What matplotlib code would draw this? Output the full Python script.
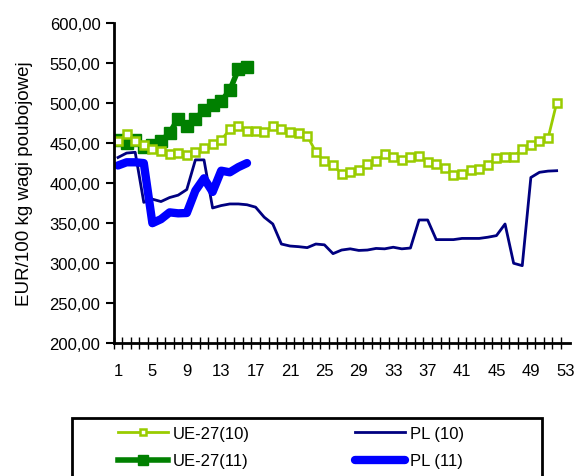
import numpy as np
import matplotlib
matplotlib.use("Agg")
import matplotlib.pyplot as plt
from matplotlib.patches import Rectangle

plt.rcParams['font.family'] = ['Liberation Sans', 'DejaVu Sans']

# weeks (category axis 1..53)
weeks_all = np.arange(1, 54)
tick_weeks = [1, 5, 9, 13, 17, 21, 25, 29, 33, 37, 41, 45, 49, 53]

# UE-27 2010, weeks 1..52
ue_10 = [452, 461, 452, 447, 443, 440.5, 436, 437.5, 435, 438.5,
         444, 449, 454, 467, 471, 465, 465, 464, 471, 467,
         463.5, 462.5, 459, 439, 427, 423, 411.5, 413.5, 416.5, 424,
         428, 436, 432, 429, 432, 433.5, 426, 424, 418.5, 410,
         412, 416.5, 417, 423, 431, 433, 433, 442.5, 447, 452,
         456, 500]

# UE-27 2011, weeks 1..16
ue_11 = [454, 450, 454, 445, 448, 452, 463, 480, 471, 480,
         491, 498, 502, 516, 542, 544.5]

# PL 2010, weeks 1..52
pl_10 = [432, 437.5, 438.5, 376, 380, 377, 382, 385, 392, 429,
         429, 369, 372, 374, 374, 373, 370, 357.5, 349, 324,
         321.5, 320.7, 319.5, 324, 323, 312, 316.5, 318, 316, 316.5,
         318.5, 318, 320, 318, 319, 354, 354, 329.5, 329.5, 329.5,
         331, 331, 331, 332.5, 334.5, 349, 300, 297, 407, 413.5,
         415, 415.5]

# PL 2011, weeks 1..16
pl_11 = [422, 426, 426, 425, 350, 355, 363.5, 362.3, 362.7, 390.6,
         406, 389, 415.5, 413.5, 420, 425]

fig = plt.figure(figsize=(5.8, 4.77), dpi=100)
ax = fig.add_axes([0.196, 0.278, 0.786, 0.672])

w10 = np.arange(1, len(ue_10) + 1)
w11 = np.arange(1, len(ue_11) + 1)

l_pl10, = ax.plot(w10, pl_10, color='#000080', lw=2, label='PL (10)')
l_pl11, = ax.plot(w11, pl_11, color='#0000FF', lw=6, solid_capstyle='round',
                  label='PL (11)')
l_ue11, = ax.plot(w11, ue_11, color='#008000', lw=4, marker='s', ms=9,
                  mfc='#008000', mec='#008000', label='UE-27(11)')
l_ue10, = ax.plot(w10, ue_10, color='#99CC00', lw=2, marker='s', ms=5.5,
                  mfc='white', mec='#99CC00', mew=1.8, label='UE-27(10)')

ax.set_xlim(0.5, 53.5)
ax.set_ylim(200, 600)
ax.set_yticks(np.arange(200, 601, 50))
ax.set_yticklabels([f"{v:.2f}".replace('.', ',') for v in np.arange(200, 601, 50)],
                   fontsize=12)
ax.set_xticks(tick_weeks)
ax.set_xticklabels([str(w) for w in tick_weeks], fontsize=12)
ax.tick_params(axis='x', length=0, pad=14)
ax.set_xticks(weeks_all - 0.5, minor=True)
ax.tick_params(axis='x', which='minor', length=8, direction='inout', width=1)
ax.tick_params(axis='y', length=6, width=1.5, direction='out')

for s in ['top', 'right']:
    ax.spines[s].set_visible(False)
for s in ['left', 'bottom']:
    ax.spines[s].set_linewidth(2)

ax.set_ylabel('EUR/100 kg wagi poubojowej', fontsize=13.5, labelpad=12)

# legend box (cut by the bottom edge of the figure)
fig.patches.append(Rectangle((0.1241, -0.05), 0.8103, 0.1716,
                             transform=fig.transFigure, fill=False,
                             edgecolor='black', lw=2, clip_on=False))

leg = fig.legend(handles=[l_ue10, l_ue11, l_pl10, l_pl11], ncol=2,
                 loc='upper left', bbox_to_anchor=(0.2034, 0.105),
                 fontsize=12, frameon=False,
                 handlelength=3.0, handletextpad=0.3, borderpad=0,
                 labelspacing=0.75, borderaxespad=0, columnspacing=6.3,
                 markerscale=0.8)

fig.savefig('out.png', dpi=100)
